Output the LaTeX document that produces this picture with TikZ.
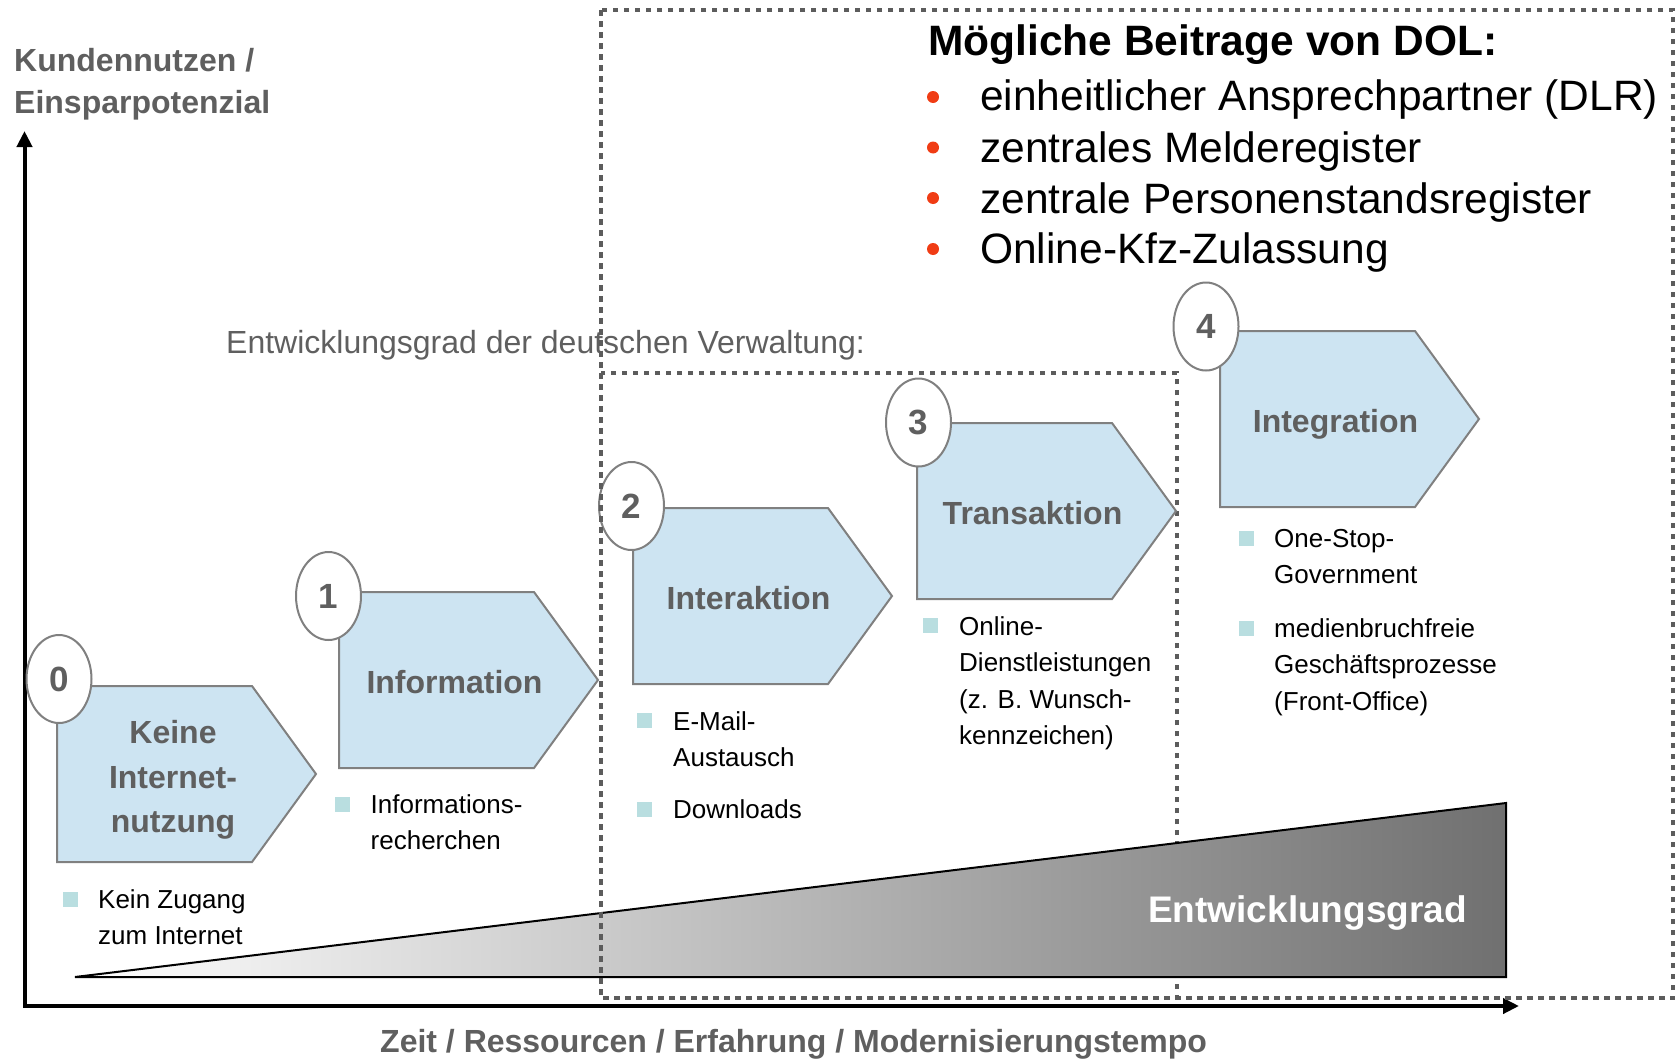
\documentclass[tikz,border=0pt]{standalone}
\usepackage{fontspec}
\setmainfont{Liberation Sans}
\usetikzlibrary{arrows.meta,shapes.geometric}
\definecolor{txtgray}{RGB}{95,95,95}
\definecolor{boxgray}{RGB}{92,92,92}
\definecolor{stagefill}{RGB}{205,228,242}
\definecolor{stageline}{RGB}{128,128,128}
\definecolor{bulletteal}{RGB}{185,222,224}
\definecolor{dotred}{RGB}{240,60,20}
\definecolor{wedgegray}{RGB}{112,112,112}
\newcommand\stageshape[3]{% left x, top y, name
  \draw[stage] (#1,#2) -- ++(195,0) -- ++(64,88) -- ++(-64,88) -- ++(-195,0) -- cycle;
  \coordinate (#3) at (#1,#2);
}
\newcommand\lines[1]{\begin{tabular}[t]{@{}l@{}}#1\end{tabular}}
\newcommand\clines[1]{\begin{tabular}[t]{@{}c@{}}#1\end{tabular}}
\begin{document}
\begin{tikzpicture}[x=1pt,y=-1pt,
  stage/.style={fill=stagefill,draw=stageline,line width=2pt,line join=miter},
  numell/.style={ellipse,draw=stageline,fill=white,line width=2pt,minimum width=65pt,minimum height=88pt,inner sep=0pt,font=\fontsize{35}{40}\selectfont\bfseries,text=txtgray},
  stagelabel/.style={anchor=base,inner sep=0pt,font=\fontsize{32}{44.5}\selectfont\bfseries,text=txtgray},
  axislabel/.style={anchor=base west,inner sep=0pt,font=\fontsize{32}{42}\selectfont\bfseries,text=txtgray},
  itemtext/.style={anchor=base west,inner sep=0pt,font=\fontsize{26}{36.5}\selectfont},
  sq/.style={fill=bulletteal,draw=none,minimum size=15pt,inner sep=0pt},
  dotbox/.style={draw=boxgray,line width=4.5pt,dash pattern=on 5.5pt off 5.5pt},
  axisline/.style={line width=4pt,{Triangle[length=16pt,width=15pt]}-{Triangle[length=16pt,width=15pt]}},
  reddot/.style={circle,fill=dotred,minimum size=12pt,inner sep=0pt},
  dolitem/.style={anchor=base west,inner sep=0pt,font=\fontsize{42.5}{50}\selectfont},
  ]
\useasboundingbox (0,0) rectangle (1677,1060);

% inner dotted box
\draw[dotbox] (601,373) rectangle (1177,998);

% wedge
\draw[line width=2pt,left color=white,right color=wedgegray] (75,977) -- (1506,803) -- (1506,977) -- cycle;
\node[anchor=base west,inner sep=0pt,font=\fontsize{37}{44}\selectfont\bfseries,text=white] (wedgelabel) at (1148,922) {Entwicklungsgrad};

% axes
\coordinate (O) at (24.5,1006);
\coordinate (ytip) at (24.5,131);
\coordinate (xtip) at (1519,1006);
\draw[axisline] (ytip) -- (O) -- (xtip);
\node[axislabel] (ylabel) at (14,71) {\begin{tabular}[t]{@{}l@{}}Kundennutzen /\\Einsparpotenzial\end{tabular}};
\node[axislabel] (xlabel) at (380,1052) {Zeit / Ressourcen / Erfahrung / Modernisierungstempo};
\node[anchor=base west,inner sep=0pt,font=\fontsize{32}{38}\selectfont,text=txtgray] (grad) at (226,353) {Entwicklungsgrad der deutschen Verwaltung:};

% stages
\stageshape{57}{686}{s0}
\stageshape{339}{592}{s1}
\stageshape{633}{508}{s2}
\stageshape{917}{423}{s3}
\stageshape{1220}{331}{s4}

\node[stagelabel] (l0) at (173,743.5) {\clines{Keine\\Internet-\\nutzung}};
\node[stagelabel] (l1) at (454.5,693) {Information};
\node[stagelabel] (l2) at (748.5,609) {Interaktion};
\node[stagelabel] (l3) at (1032.5,524.5) {Transaktion};
\node[stagelabel] (l4) at (1335.5,432.5) {Integration};

\node[numell] (n0) at (59,679) {0};
\node[numell] (n1) at (328.5,596) {1};
\node[numell] (n2) at (631.5,506) {2};
\node[numell] (n3) at (918.5,422.5) {3};
\node[numell] (n4) at (1206,326.5) {4};

% items
\node[sq] (q0) at (70,899.5) {};
\node[itemtext] (t0) at (98,908) {\lines{Kein Zugang\\zum Internet}};
\node[sq] (q1) at (342,804.5) {};
\node[itemtext] (t1) at (370.5,813) {\lines{Informations-\\recherchen}};
\node[sq] (q2a) at (644,720.5) {};
\node[itemtext] (t2a) at (673,730) {\lines{E-Mail-\\Austausch}};
\node[sq] (q2b) at (644,809.5) {};
\node[itemtext] (t2b) at (673,818) {Downloads};
\node[sq] (q3) at (930,625) {};
\node[itemtext] (t3) at (959,635) {\lines{Online-\\Dienstleistungen\\(z. B. Wunsch-\\kennzeichen)}};
\node[sq] (q4a) at (1246,538.5) {};
\node[itemtext] (t4a) at (1274,547) {\lines{One-Stop-\\Government}};
\node[sq] (q4b) at (1246,628.5) {};
\node[itemtext] (t4b) at (1274,637) {\lines{medienbruchfreie\\Geschäftsprozesse\\(Front-Office)}};

% DOL box content
\node[anchor=base west,inner sep=0pt,font=\fontsize{42.5}{50}\selectfont\bfseries] (dtitle) at (928,55) {Mögliche Beitrage von DOL:};
\node[reddot] (r1) at (933,97) {};
\node[reddot] (r2) at (933,147.5) {};
\node[reddot] (r3) at (933,198) {};
\node[reddot] (r4) at (933,249) {};
\node[dolitem] (d1) at (980,110) {einheitlicher Ansprechpartner (DLR)};
\node[dolitem] (d2) at (980,162) {zentrales Melderegister};
\node[dolitem] (d3) at (980,213) {zentrale Personenstandsregister};
\node[dolitem] (d4) at (980,263) {Online-Kfz-Zulassung};

% outer dotted box
\draw[dotbox] (601,10) rectangle (1673,998);
\end{tikzpicture}
\end{document}
